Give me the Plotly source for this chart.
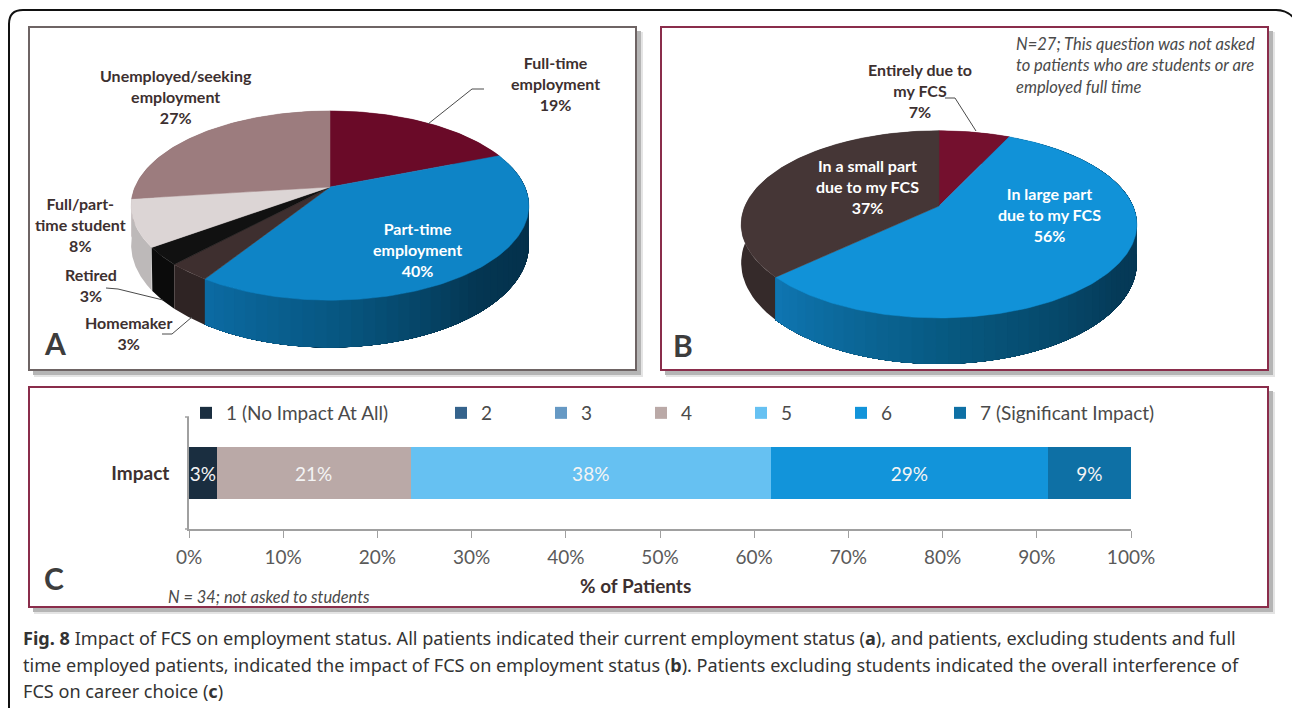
import math
import plotly.graph_objects as go

# ---------- data ----------
employment_labels = ["Full-time<br>employment", "Part-time<br>employment", "Homemaker", "Retired",
                     "Full/part-<br>time student", "Unemployed/seeking<br>employment"]
employment_values = [19, 40, 3, 3, 8, 27]

cause_labels = ["Entirely due to<br>my FCS", "In large part<br>due to my FCS", "In a small part<br>due to my FCS"]
cause_values = [7, 56, 37]

impact_category = ["Impact"]
impact_names = ["1 (No Impact At All)", "2", "3", "4", "5", "6", "7 (Significant Impact)"]
impact_values = [2.94, 0, 0, 20.59, 38.24, 29.41, 8.82]
impact_legends = ["legend", "legend2", "legend2", "legend2", "legend2", "legend2", "legend3"]

# ---------- styles ----------
A_top = ["#6a0a28", "#0e84c6", "#3e2f2f", "#111111", "#dcd5d5", "#9c7c7e"]
A_side = [("#4a071c",) * 3, ("#0b6ba3", "#07557f", "#043652", "#042f49", "#042f49"), ("#2f2424",) * 3,
          ("#0b0b0b",) * 3, ("#bdb9b9",) * 3, ("#7c6163",) * 3]
B_top = ["#74102e", "#1192d8", "#453636"]
B_side = [("#520a20",) * 3, ("#0f76b2", "#07587f", "#053a58", "#05354f", "#05354f"), ("#352a2a",) * 3]
impact_colors = ["#1a2e40", "#35638c", "#6699c4", "#baa9a7", "#66c1f2", "#1294da", "#0e70a5"]
INK = "#3d3030"
LABEL = "Lato, Carlito, sans-serif"
K = 0.196  # perspective


def hx(c):
    return [int(c[i:i + 2], 16) for i in (1, 3, 5)]


def mix(stops, t):
    t = t * (len(stops) - 1)
    i = min(int(t), len(stops) - 2)
    f = t - i
    a, b = hx(stops[i]), hx(stops[i + 1])
    return "#%02x%02x%02x" % tuple(round(a[j] + (b[j] - a[j]) * f) for j in range(3))


def project(theta, cx, cy, rx, ry):
    u, v = math.sin(theta), math.cos(theta)
    w = 1 / (1 + K * v)
    return cx + rx * u * w, cy - ry * v * w, w


def poly(xs, ys, color, lw=0.5):
    return go.Scatter(x=xs, y=ys, mode="lines", fill="toself", fillcolor=color,
                      line=dict(color=color, width=lw), hoverinfo="skip", showlegend=False,
                      xaxis="x", yaxis="y")


def pie3d(values, top, side, cx, cy, rx, ry, depth):
    total = sum(values)
    spans, a = [], 0.0
    for v in values:
        b = a + v / total * 2 * math.pi
        spans.append((a, b))
        a = b
    out = []
    # side walls: back wedges first, so the front ones lie on top
    order = sorted(range(len(spans)), key=lambda i: -math.cos((spans[i][0] + spans[i][1]) / 2))
    for i in order:
        a, b = spans[i]
        stops = side[i]
        graded = len(set(stops)) > 1
        n_strips = int((b - a) / 0.05) if graded else 1
        for s in range(n_strips):
            # each strip runs on to the end of the wedge; the next one paints over it
            a0 = a + (b - a) * s / n_strips
            n = 60
            pts = [project(a0 + (b - a0) * j / n, cx, cy, rx, ry) for j in range(n + 1)]
            xs = [p[0] for p in pts] + [p[0] for p in reversed(pts)]
            ys = [p[1] for p in pts] + [p[1] + depth * p[2] for p in reversed(pts)]
            out.append(poly(xs + xs[:1], ys + ys[:1], mix(stops, 1 - (s + .5) / n_strips), 0))
    for (a, b), c in zip(spans, top):
        n = max(8, int((b - a) / 0.02))
        pts = [project(a + (b - a) * j / n, cx, cy, rx, ry) for j in range(n + 1)]
        xs = [cx] + [p[0] for p in pts] + [cx]
        ys = [cy] + [p[1] for p in pts] + [cy]
        out.append(poly(xs, ys, c))
    return out


fig = go.Figure()
for t in pie3d(employment_values, A_top, A_side, 330, 187, 195, 91, 38):
    fig.add_trace(t)
for t in pie3d(cause_values, B_top, B_side, 939, 206, 194, 90, 37):
    fig.add_trace(t)

# stacked bar
for name, val, col, lg in zip(impact_names, impact_values, impact_colors, impact_legends):
    fig.add_trace(go.Bar(
        y=impact_category, x=[val], name=name, orientation="h", marker=dict(color=col, line_width=0),
        text=[f"{val:.0f}%" if val else ""], textposition="inside", insidetextanchor="middle",
        textangle=0, constraintext="none", cliponaxis=False,
        textfont=dict(family=LABEL, size=19, color="#f4f4f4"),
        xaxis="x2", yaxis="y2", legend=lg, hoverinfo="skip"))

shapes = []


def rect(x0, y0, x1, y1, line=None, fill="white", w=2):
    shapes.append(dict(type="rect", xref="x", yref="y", x0=x0, y0=y0, x1=x1, y1=y1, layer="below",
                       fillcolor=fill, line=dict(color=line or "rgba(0,0,0,0)", width=w if line else 0)))


def panel(x0, y0, x1, y1, color):
    rect(x0 + 5, y0 + 5, x1 + 7, y1 + 7, fill="#e4e4e4")
    rect(x0 + 4, y0 + 4, x1 + 5, y1 + 5, fill="#b5b5b5")
    rect(x0, y0, x1, y1, line=color)


# outer rounded frame
shapes.append(dict(type="path", xref="x", yref="y", layer="below",
                   path="M 9,712 L 9,24 Q 9,10 23,10 L 1276,10 Q 1286,10 1293,17",
                   line=dict(color="#111111", width=2)))
panel(29, 27, 636, 370, "#6e6464")
panel(661, 27, 1268, 370, "#8a2d4b")
panel(29, 387, 1268, 607, "#8a2d4b")


def leader(points, color="#4a4a4a", width=1):
    d = "M " + " L ".join(f"{x},{y}" for x, y in points)
    shapes.append(dict(type="path", xref="x", yref="y", layer="above", path=d,
                       line=dict(color=color, width=width)))


leader([(428, 124), (472, 89), (484, 89)])
leader([(106, 288), (118, 289), (163, 300)])
leader([(162, 334), (172, 334), (192, 317)])
leader([(945, 98), (955, 98), (976, 131)])
# category-axis end ticks
leader([(185, 417), (189, 417)], "#a0a0a0", 1.5)
leader([(185, 529), (189, 529)], "#a0a0a0", 1.5)

ann = []


def note(x, y, text, size=16, color=INK, family=LABEL, anchor="center", bold=True, italic=False):
    if bold:
        text = f"<b>{text}</b>"
    if italic:
        text = f"<i>{text}</i>"
    ann.append(dict(x=x, y=y, xref="x", yref="y", text=text, showarrow=False, xanchor=anchor,
                    yanchor="middle", align="left" if anchor == "left" else "center",
                    font=dict(family=family, size=size, color=color)))


WHITE = "#ffffff"
note(555, 83.5, f"{employment_labels[0]}<br>{employment_values[0]}%")
note(417, 249, f"{employment_labels[1]}<br>{employment_values[1]}%", color=WHITE)
note(128, 333, f"{employment_labels[2]}<br>{employment_values[2]}%")
note(91, 285, f"{employment_labels[3]}<br>{employment_values[3]}%")
note(80, 224.5, f"{employment_labels[4]}<br>{employment_values[4]}%")
note(176, 96.5, f"{employment_labels[5]}<br>{employment_values[5]}%")
note(920, 90.5, f"{cause_labels[0]}<br>{cause_values[0]}%")
note(1049, 214.5, f"{cause_labels[1]}<br>{cause_values[1]}%", color=WHITE)
note(867, 186.5, f"{cause_labels[2]}<br>{cause_values[2]}%", color=WHITE)
note(1014, 65, "N=27; This question was not asked<br>to patients who are students or are<br>employed full time",
     size=16.5, color="#4a4a4a", anchor="left", bold=False, italic=True)
note(166, 596, "N = 34; not asked to students", size=16.4, color="#4a4a4a", anchor="left", bold=False, italic=True)
note(55, 343, "A", size=30, color="#3d3d3d", bold=True)
note(683, 345, "B", size=30, color="#3d3d3d", bold=True)
note(54, 578, "C", size=30, color="#3d3d3d", bold=True)
note(635, 585, "% of Patients", size=19)

CAP = "Noto Sans, Open Sans, sans-serif"
note(21, 638, "<b>Fig. 8</b> Impact of FCS on employment status. All patients indicated their current employment status (<b>a</b>), and patients, excluding students and full",
     size=18.1, color="#333333", family=CAP, anchor="left", bold=False)
note(21, 665, "time employed patients, indicated the impact of FCS on employment status (<b>b</b>). Patients excluding students indicated the overall interference of",
     size=18.1, color="#333333", family=CAP, anchor="left", bold=False)
note(21, 691, "FCS on career choice (<b>c</b>)", size=18.1, color="#333333", family=CAP, anchor="left", bold=False)

W, H = 1292, 708
LEG = dict(orientation="h", y=1 - 413 / H, xanchor="left", yanchor="middle", traceorder="normal",
           xref="container", yref="container", bgcolor="rgba(0,0,0,0)",
           font=dict(family=LABEL, size=19, color="#4a4a4a"), itemclick=False, itemdoubleclick=False)
fig.update_layout(
    width=W, height=H, autosize=False, margin=dict(l=0, r=0, t=0, b=0, autoexpand=False),
    paper_bgcolor="white", plot_bgcolor="rgba(0,0,0,0)", barmode="stack", bargap=0.527,
    shapes=shapes, annotations=ann,
    font=dict(family=LABEL, color="#555555"),
    xaxis=dict(domain=[0, 1], range=[0, W], visible=False, fixedrange=True),
    yaxis=dict(domain=[0, 1], range=[H, 0], visible=False, fixedrange=True),
    xaxis2=dict(domain=[189 / W, 1131 / W], range=[0, 100], anchor="y2", dtick=10, ticksuffix="%",
                showgrid=False, zeroline=False, showline=True, linecolor="#a0a0a0", linewidth=1.5,
                ticks="outside", ticklen=7, tickcolor="#a0a0a0", tickwidth=1, ticklabelstandoff=3,
                tickfont=dict(family=LABEL, size=19, color="#5a5a5a")),
    yaxis2=dict(domain=[1 - 529 / H, 1 - 417 / H], anchor="x2", type="category", showgrid=False,
                showline=True, linecolor="#a0a0a0", linewidth=1.5, ticks="", ticklabelstandoff=14,
                tickfont=dict(family=LABEL, size=19, color=INK, weight="bold")),
    legend=dict(LEG, x=186 / W),
    legend2=dict(LEG, x=441 / W, entrywidth=55, entrywidthmode="pixels"),
    legend3=dict(LEG, x=940 / W),
)

fig.write_html("out.html", config=dict(displayModeBar=False, responsive=False),
               post_script="document.body.style.margin='0';document.body.style.overflow='hidden';")
